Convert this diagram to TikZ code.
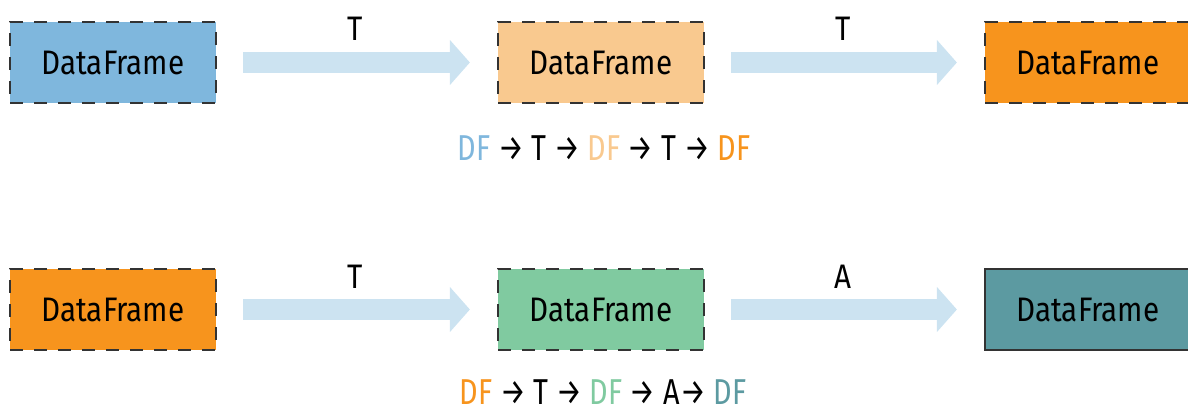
\documentclass[tikz,border=0pt]{standalone}
\usepackage{fontspec}
\setmainfont{Fira Sans}[FakeStretch=0.87]
\newfontfamily\seqfont{Fira Sans}[FakeStretch=0.8]
\usetikzlibrary{arrows.meta,calc}
\definecolor{dfblue}{HTML}{7FB7DD}
\definecolor{dflight}{HTML}{F9C98F}
\definecolor{dforange}{HTML}{F7941D}
\definecolor{dfgreen}{HTML}{80CAA0}
\definecolor{dfteal}{HTML}{5C9AA1}
\definecolor{fatblue}{HTML}{CCE3F1}
\definecolor{edge}{HTML}{333333}
\tikzset{
  x=1pt,y=-1pt,
  dfbox/.style={draw=edge, line width=2.2pt, dash pattern=on 13pt off 11pt, minimum width=206pt, minimum height=81pt, inner sep=0pt, font=\fontsize{34}{38}\selectfont, text=black},
  solidbox/.style={dfbox, solid},
  fat/.style={line width=21pt, color=fatblue, -{Triangle[length=20pt,width=44pt]}, shorten <=26pt, shorten >=27pt},
  lbl/.style={font=\fontsize{34}{38}\selectfont, text=black, inner sep=0pt, anchor=base},
  seq/.style={font=\seqfont\fontsize{36}{40}\selectfont, text=black, inner sep=0pt, anchor=base}
}
\begin{document}
\begin{tikzpicture}
\useasboundingbox (0,0) rectangle (1188,410);
% top row
\node[dfbox, fill=dfblue] (a1) at (113,62.5) {DataFrame};
\node[dfbox, fill=dflight] (b1) at (601,62.5) {DataFrame};
\node[dfbox, fill=dforange] (c1) at (1088,62.5) {DataFrame};
\draw[fat] (a1.east) -- (b1.west);
\draw[fat] (b1.east) -- (c1.west);
\node[lbl] (t1) at (355,40) {T};
\node[lbl] (t2) at (843,40) {T};
\node[seq] (s1) at (604,160) {\textcolor{dfblue}{DF} → T → \textcolor{dflight}{DF} → T → \textcolor{dforange}{DF}};
% bottom row
\node[dfbox, fill=dforange] (a2) at (113,309.5) {DataFrame};
\node[dfbox, fill=dfgreen] (b2) at (601,309.5) {DataFrame};
\node[solidbox, fill=dfteal] (c2) at (1088,309.5) {DataFrame};
\draw[fat] (a2.east) -- (b2.west);
\draw[fat] (b2.east) -- (c2.west);
\node[lbl] (t3) at (355,288) {T};
\node[lbl] (t4) at (843,288) {A};
\node[seq] (s2) at (603,404) {\textcolor{dforange}{DF} → T → \textcolor{dfgreen}{DF} → A→ \textcolor{dfteal}{DF}};
\end{tikzpicture}
\end{document}
